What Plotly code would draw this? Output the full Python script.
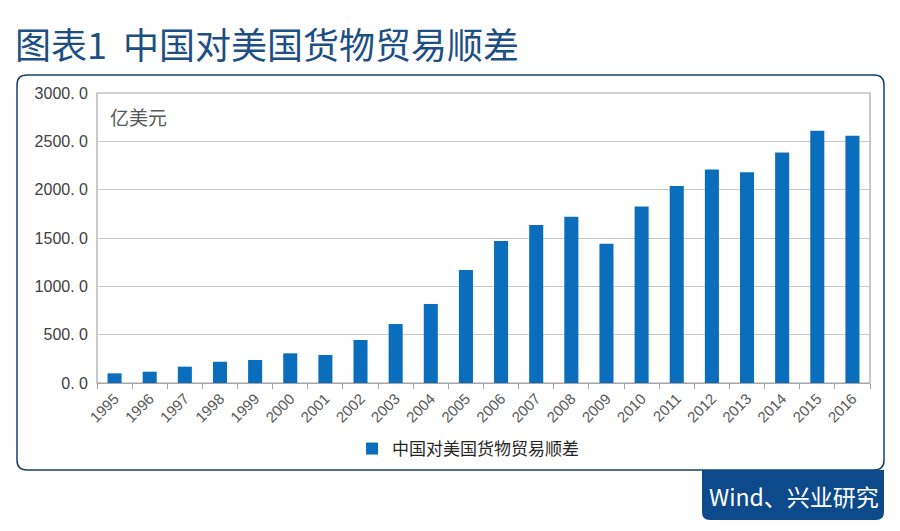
"""
Chart 1: China's goods trade surplus with the US, 1995-2016 (100 million USD)
"""

import plotly.graph_objects as go

years = [str(y) for y in range(1995, 2017)]
surplus = [100, 117, 169, 220, 238, 307, 290, 445, 610, 817, 1169, 1468,
           1634, 1720, 1441, 1827, 2037, 2209, 2179, 2385, 2609, 2557]
series_name = "中国对美国货物贸易顺差"
y_ticks = [0, 500, 1000, 1500, 2000, 2500, 3000]
y_tick_labels = ["0. 0", "500. 0", "1000. 0", "1500. 0", "2000. 0", "2500. 0", "3000. 0"]

W, H = 900, 531
OFF = 8  # page body margin shifts the figure by 8px
PL, PR, PT, PB = 97 - OFF, 870 - OFF, 93 - OFF, 383 - OFF   # plot area in pixels


def px_x(x):
    return (x - OFF - PL) / (PR - PL)


def px_y(y):
    return (PB - (y - OFF)) / (PB - PT)


def rounded_rect(x0, y0, x1, y1, r, corners=(True, True, True, True)):
    # corners: top-left, top-right, bottom-right, bottom-left (screen pixel coords)
    tl, tr, br, bl = corners
    p = []
    p.append(f"M {px_x(x0 + (r if tl else 0))},{px_y(y0)}")
    p.append(f"L {px_x(x1 - (r if tr else 0))},{px_y(y0)}")
    if tr:
        p.append(f"Q {px_x(x1)},{px_y(y0)} {px_x(x1)},{px_y(y0 + r)}")
    p.append(f"L {px_x(x1)},{px_y(y1 - (r if br else 0))}")
    if br:
        p.append(f"Q {px_x(x1)},{px_y(y1)} {px_x(x1 - r)},{px_y(y1)}")
    p.append(f"L {px_x(x0 + (r if bl else 0))},{px_y(y1)}")
    if bl:
        p.append(f"Q {px_x(x0)},{px_y(y1)} {px_x(x0)},{px_y(y1 - r)}")
    p.append(f"L {px_x(x0)},{px_y(y0 + (r if tl else 0))}")
    if tl:
        p.append(f"Q {px_x(x0)},{px_y(y0)} {px_x(x0 + r)},{px_y(y0)}")
    p.append("Z")
    return " ".join(p)


fig = go.Figure()
fig.add_trace(go.Bar(
    x=years,
    y=surplus,
    name=series_name,
    marker=dict(color="#0a6ebd", line=dict(width=0)),
    showlegend=True,
))

navy = "#173f6e"
fig.add_shape(type="path", xref="paper", yref="paper", layer="below",
              path=rounded_rect(17, 75, 884, 470, 10),
              line=dict(color=navy, width=1.5), fillcolor="white")
fig.add_shape(type="path", xref="paper", yref="paper", layer="above",
              path=rounded_rect(702, 470, 884, 520, 8, (False, False, True, True)),
              line=dict(color="#0c4a8c", width=0), fillcolor="#0c4a8c")
# plot frame
fig.add_shape(type="rect", xref="paper", yref="paper", x0=0, x1=1, y0=0, y1=1,
              line=dict(color="#a6a6a6", width=1.2), layer="below")

fig.add_annotation(text="图表1  中国对美国货物贸易顺差", xref="paper", yref="paper",
                   x=px_x(13), y=px_y(43), xanchor="left", yanchor="middle",
                   showarrow=False,
                   font=dict(family="Noto Sans CJK SC", size=36, color="#1d4f85"))
fig.add_annotation(text="亿美元", xref="paper", yref="paper",
                   x=px_x(108), y=px_y(116), xanchor="left", yanchor="middle",
                   showarrow=False,
                   font=dict(family="Noto Sans CJK SC", size=19, color="#595959"))
fig.add_annotation(text="Wind、兴业研究", xref="paper", yref="paper",
                   x=px_x(794), y=px_y(496), xanchor="center", yanchor="middle",
                   showarrow=False,
                   font=dict(family="Noto Sans CJK SC", size=23, color="white"))

fig.update_layout(
    width=W,
    height=H,
    margin=dict(l=PL, r=W - PR, t=PT, b=H - PB),
    paper_bgcolor="white",
    plot_bgcolor="white",
    bargap=0.6,
    font=dict(family="Liberation Sans", color="#595959"),
    showlegend=True,
    legend=dict(orientation="h", x=0.48, xanchor="center", y=px_y(449),
                yanchor="middle",
                font=dict(family="Noto Sans CJK SC", size=17, color="#262626"),
                itemwidth=30),
    xaxis=dict(
        type="category",
        tickangle=-45,
        tickfont=dict(size=15, color="#595959"),
        showline=True, linecolor="#a6a6a6", linewidth=1.2,
        ticks="outside", ticklen=5, tickcolor="#a6a6a6",
        tickson="boundaries",
        showgrid=False,
    ),
    yaxis=dict(
        range=[0, 3000],
        tickvals=y_ticks,
        ticktext=y_tick_labels,
        tickfont=dict(size=16, color="#404040"),
        ticklabelstandoff=8,
        showgrid=True, gridcolor="#c8c8c8", gridwidth=1.2,
        zeroline=False,
        showline=False,
        ticks="",
    ),
)

fig.write_html("out.html")
